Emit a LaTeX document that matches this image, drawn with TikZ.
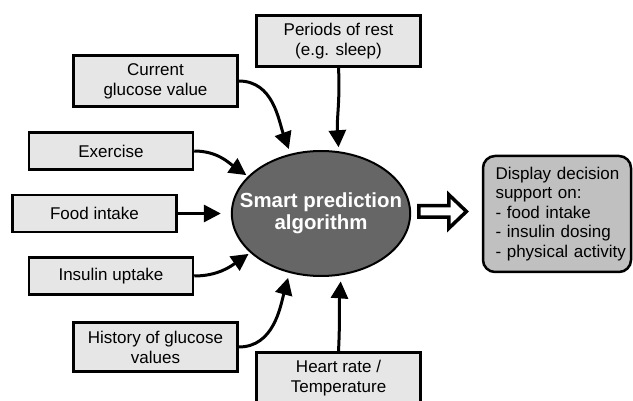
\documentclass[tikz,border=0pt]{standalone}
\usepackage{fontspec}
\setmainfont{Liberation Sans}
\usetikzlibrary{shapes.geometric,arrows.meta}
\definecolor{inputgray}{HTML}{E6E6E6}
\definecolor{outputgray}{HTML}{C0C0C0}
\definecolor{coregray}{HTML}{666666}
\tikzset{
  inbox/.style = {draw=black, line width=2.5pt, fill=inputgray, align=center, inner sep=0pt, minimum width=164pt, font=\fontsize{17}{20}\selectfont},
  algnode/.style = {ellipse, draw=black, line width=2pt, fill=coregray, text=white, align=center, inner xsep=-18pt, inner ysep=0pt, minimum width=178pt, minimum height=125pt, font=\bfseries\fontsize{20.4}{22}\selectfont},
  outbox/.style = {draw=black, line width=2.5pt, fill=outputgray, rounded corners=12pt, align=left, text width=141pt, inner xsep=3.5pt, minimum height=116pt, font=\fontsize{17}{19.5}\selectfont, execute at begin node={\leftskip=9pt\hyphenpenalty=10000}},
  feed/.style = {line width=3pt, -{Triangle[length=17pt,width=17pt]}},
  bigarrow/.style = {draw=black, line width=3.5pt, fill=white, miter limit=4},
}
\begin{document}
\begin{tikzpicture}[x=1pt,y=-1pt]
\useasboundingbox (0,0) rectangle (633,401);
% the algorithm in the middle
\node [algnode] (alg) at (321,213.5) {Smart prediction\\algorithm};
% input boxes
\node [inbox, minimum height=51pt] (rest) at (338.5,41) {Periods of rest\\(e.g. sleep)};
\node [inbox, minimum height=51pt] (current) at (155.5,81) {Current\\glucose value};
\node [inbox, minimum height=37pt] (exercise) at (111,151) {Exercise};
\node [inbox, minimum height=37pt] (food) at (94.5,213.5) {Food intake};
\node [inbox, minimum height=37pt] (insulin) at (111,276) {Insulin uptake};
\node [inbox, minimum height=49pt] (history) at (155.5,347) {History of glucose\\values};
\node [inbox, minimum height=51pt] (heart) at (338.5,378) {Heart rate /\\Temperature};
% output
\node [outbox] (display) at (557,214) {Display decision\\support on:\\- food intake\\- insulin dosing\\- physical activity};
% hollow arrow towards the output
\draw [bigarrow] ([xshift=7.75pt,yshift=2pt]alg.east) ++(0,-5.75) -- ++(30,0) -- ++(0,-11)
  -- ++(17.5,16.75) -- ++(-17.5,16.75) -- ++(0,-11) -- ++(-30,0) -- cycle;
% inputs into the algorithm
\draw [feed, shorten >=5pt] (current.east) to[out=0,in=110] (alg.117);
\draw [feed, shorten >=4pt] (rest.south) to[out=-87,in=94] (alg.74);
\draw [feed, shorten >=2pt] (exercise.east) to[out=0,in=145] (alg.153);
\draw [feed, shorten >=10pt] (food.east) -- (alg.west);
\draw [feed, shorten >=2pt] (insulin.east) to[out=0,in=-145] (alg.209);
\draw [feed, shorten >=5pt] (history.east) to[out=0,in=-105] (alg.242);
\draw [feed, shorten >=6pt] (heart.north) to[out=87,in=-94] (alg.288);
\end{tikzpicture}
\end{document}
